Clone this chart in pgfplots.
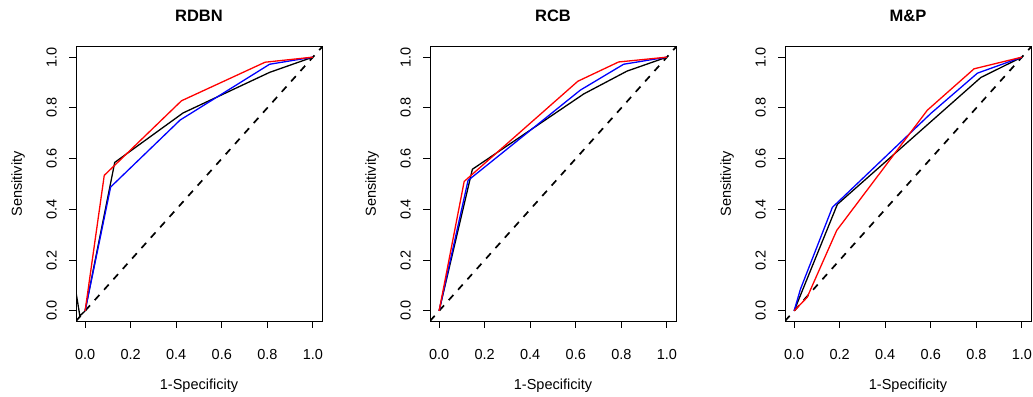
\documentclass[border=0pt]{standalone}
\usepackage{fontspec}
\setmainfont{Liberation Sans}
\usepackage{pgfplots}
\pgfplotsset{compat=1.18}
\pgfplotsset{
  rocax/.style={
    scale only axis, width=246bp, height=274bp, anchor=south west,
    xmin=-0.04, xmax=1.04, ymin=-0.04, ymax=1.04,
    xtick={0,0.2,0.4,0.6,0.8,1}, ytick={0,0.2,0.4,0.6,0.8,1},
    xticklabels={0.0,0.2,0.4,0.6,0.8,1.0},
    yticklabels={0.0,0.2,0.4,0.6,0.8,1.0},
    xtick pos=left, ytick pos=left,
    tick align=outside, major tick length=7bp,
    every tick/.style={black, line width=1bp},
    axis line style={line width=1bp},
    tick label style={font=\fontsize{14.5bp}{16bp}\selectfont},
    xticklabel style={anchor=base, yshift=-31bp},
    yticklabel style={rotate=90, anchor=base, yshift=12.3bp},
    every axis title/.style={at={(0.5,1)}, anchor=base, yshift=25.6bp, font=\bfseries\fontsize{16.5bp}{18bp}\selectfont},
    every axis x label/.style={at={(axis description cs:0.5,0)}, anchor=base, yshift=-68bp, font=\fontsize{14.5bp}{16bp}\selectfont},
    every axis y label/.style={at={(axis description cs:-0.22,0.5)}, rotate=90, anchor=base, font=\fontsize{14.5bp}{16bp}\selectfont},
    xlabel={1-Specificity}, ylabel={Sensitivity},
  },
  roc/.style={line width=1.3bp},
  diag/.style={black, line width=1.7bp, dash pattern=on 7bp off 7bp},
}
\begin{document}
\begin{tikzpicture}
\path[use as bounding box] (0,0) rectangle (1033bp,397bp);
% RDBN
\begin{axis}[rocax, at={(76bp,76bp)}, title={RDBN}]
\addplot[diag] coordinates {(-0.04,-0.04) (1.04,1.04)};
\addplot[roc, black] coordinates {(-0.055,0.156) (-0.023,-0.02) (0,0) (0.13,0.585) (0.43,0.78) (0.81,0.94) (1,1)};
\addplot[roc, blue] coordinates {(0,0) (0.112,0.488) (0.417,0.752) (0.81,0.972) (1,1)};
\addplot[roc, red] coordinates {(0,0) (0.084,0.534) (0.423,0.828) (0.79,0.98) (1,1)};
\end{axis}
% RCB
\begin{axis}[rocax, at={(430bp,76bp)}, title={RCB}]
\addplot[diag] coordinates {(-0.04,-0.04) (1.04,1.04)};
\addplot[roc, black] coordinates {(0,0) (0.146,0.558) (0.635,0.855) (0.825,0.945) (1,1)};
\addplot[roc, blue] coordinates {(0,0) (0.127,0.514) (0.62,0.87) (0.81,0.972) (1,1)};
\addplot[roc, red] coordinates {(0,0) (0.11,0.51) (0.609,0.905) (0.788,0.981) (1,1)};
\end{axis}
% M&P
\begin{axis}[rocax, at={(785bp,76bp)}, title={M\&P}]
\addplot[diag] coordinates {(-0.04,-0.04) (1.04,1.04)};
\addplot[roc, black] coordinates {(0,0) (0.19,0.42) (0.82,0.92) (1,1)};
\addplot[roc, blue] coordinates {(0,0) (0.028,0.086) (0.168,0.408) (0.60,0.778) (0.805,0.937) (1,1)};
\addplot[roc, red] coordinates {(0,0) (0.057,0.053) (0.187,0.317) (0.585,0.791) (0.79,0.954) (1,1)};
\end{axis}
\end{tikzpicture}
\end{document}
